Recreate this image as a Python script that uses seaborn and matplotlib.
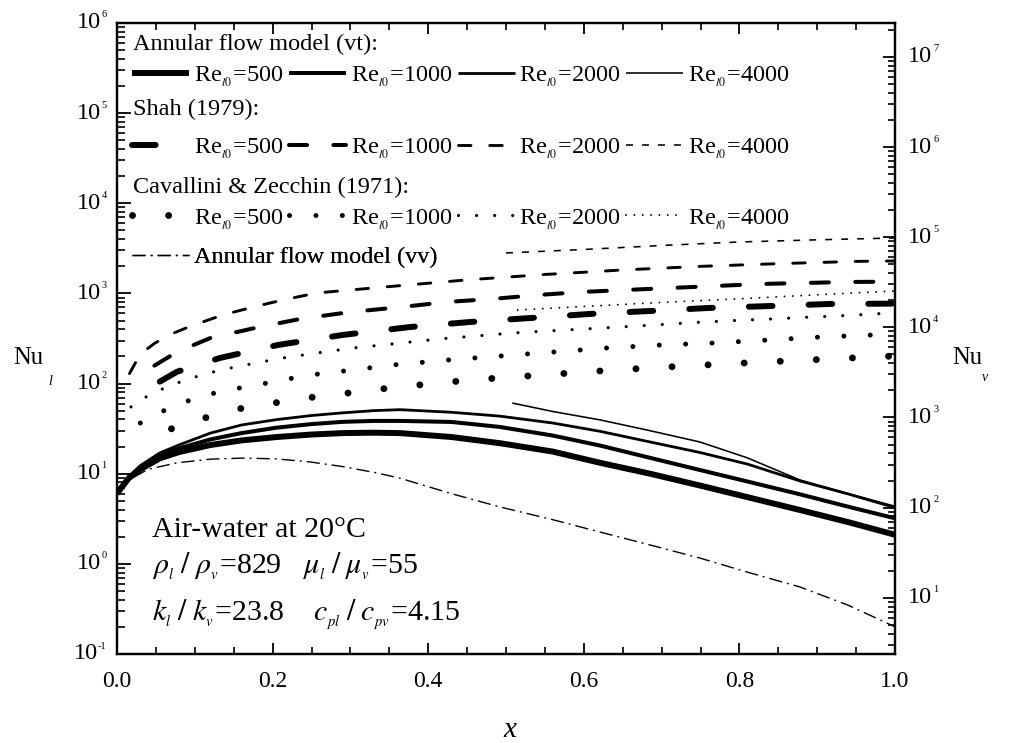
import matplotlib
matplotlib.use("Agg")
import matplotlib.pyplot as plt
import matplotlib.ticker as mticker
import seaborn as sns

# ---------------- data ----------------
re_values = [500, 1000, 2000, 4000]

# Annular flow model (vt)
x_vt = [0, 0.005, 0.015, 0.03, 0.055, 0.08, 0.12, 0.16, 0.205, 0.25, 0.29, 0.33,
        0.364, 0.43, 0.492, 0.56, 0.621, 0.685, 0.749, 0.81, 0.878, 0.94, 1.0]
nu_vt_500 = [6.0, 6.9, 8.9, 11.2, 14.8, 17.4, 20.8, 23.4, 25.5, 27.2, 28.2, 28.5,
             28.2, 25.5, 21.8, 17.6, 13.2, 10.0, 7.4, 5.5, 3.95, 2.9, 2.1]
nu_vt_1000 = [6.0, 7.1, 9.1, 11.7, 15.8, 19.1, 24.0, 28.2, 32.4, 35.5, 37.6, 38.5,
              38.5, 37.5, 33.0, 26.5, 20.5, 15.0, 11.0, 8.2, 5.9, 4.3, 3.2]
nu_vt_2000 = [6.0, 7.2, 9.3, 12.3, 17.0, 20.9, 28.2, 34.7, 39.8, 44.2, 47.3, 50.1,
              51.3, 48.0, 43.5, 36.5, 29.5, 22.5, 17.2, 12.8, 8.3, 5.95, 4.2]
x_vt_4000 = [0.508, 0.56, 0.621, 0.685, 0.749, 0.81, 0.878, 0.94, 1.0]
nu_vt_4000 = [60.8, 49.0, 39.5, 30.0, 22.5, 15.0, 8.5, 6.0, 4.35]

# Shah (1979)
x_shah_500 = [0.055, 0.077, 0.132, 0.207, 0.29, 0.377, 0.454, 0.531, 0.608, 0.685,
              0.76, 0.839, 0.917, 1.0]
nu_shah_500 = [105, 135, 192, 268, 346, 424, 482, 533, 592, 638, 689, 724, 764, 770]
x_shah_1000 = [0.048, 0.077, 0.12, 0.177, 0.235, 0.30, 0.366, 0.424, 0.482, 0.54,
               0.598, 0.653, 0.711, 0.769, 0.826, 0.884, 0.942, 1.0]
nu_shah_1000 = [158, 224, 320, 413, 520, 622, 706, 804, 867, 959, 1038, 1091, 1148,
                1208, 1271, 1306, 1340, 1349]
x_shah_2000 = [0.016, 0.025, 0.035, 0.049, 0.07, 0.094, 0.136, 0.175, 0.213, 0.257,
               0.35, 0.45, 0.55, 0.65, 0.75, 0.85, 0.95, 1.0]
nu_shah_2000 = [129, 178, 229, 282, 355, 431, 577, 706, 845, 1012, 1190, 1413, 1622,
                1820, 1995, 2138, 2265, 2291]
x_shah_4000 = [0.5, 0.6, 0.7, 0.8, 0.9, 1.0]
nu_shah_4000 = [2810, 3070, 3400, 3720, 3930, 4120]

# Cavallini & Zecchin (1971)
x_cz_500 = [0.07, 0.117, 0.162, 0.21, 0.254, 0.308, 0.361, 0.454, 0.546, 0.639,
            0.731, 0.823, 0.916, 1.0]
nu_cz_500 = [31.5, 42.6, 53.6, 62.4, 71.0, 80.5, 91.6, 109.4, 124.5, 141.3, 156.7,
             171.8, 187.1, 202.3]
x_cz_1000 = [0.03, 0.062, 0.094, 0.13, 0.165, 0.2, 0.233, 0.267, 0.303, 0.355, 0.424,
             0.492, 0.562, 0.63, 0.7, 0.769, 0.837, 0.906, 0.974, 1.0]
nu_cz_1000 = [36.5, 50.9, 65.6, 80.5, 91.6, 104, 118, 131, 141, 161, 182, 202, 224,
              248, 268, 282, 304, 329, 346, 355]
x_cz_2000 = [0.018, 0.041, 0.067, 0.09, 0.113, 0.136, 0.162, 0.21, 0.257, 0.303,
             0.366, 0.413, 0.462, 0.509, 0.557, 0.605, 0.652, 0.7, 0.748, 0.796,
             0.843, 0.891, 0.938, 1.0]
nu_cz_2000 = [55.0, 74.6, 94.0, 110.9, 127.6, 142.9, 158.5, 190.5, 218.3, 247.7,
              281.8, 311.9, 337.3, 363.9, 384.6, 404.6, 426.6, 451.9, 478.6, 501.2,
              521.2, 545.8, 568.9, 609.5]
x_cz_4000 = [0.515, 0.6, 0.7, 0.8, 0.9, 1.0]
nu_cz_4000 = [655, 716, 794, 871, 966, 1064]

# Annular flow model (vv)
x_vv = [0, 0.015, 0.04, 0.077, 0.12, 0.162, 0.205, 0.248, 0.29, 0.334, 0.364, 0.43,
        0.492, 0.56, 0.621, 0.685, 0.749, 0.81, 0.878, 0.94, 1.0]
nu_vv = [5.75, 8.5, 11.2, 13.2, 14.5, 14.9, 14.6, 13.5, 12.0, 10.2, 8.9, 6.0, 4.28,
         3.09, 2.25, 1.62, 1.16, 0.81, 0.553, 0.347, 0.2]

conductivity_ratio = 23.8   # k_l / k_v, links the Nu_l and Nu_v scales
nu_l_limits = (1e-1, 1e6)

# ---------------- style ----------------
sns.set_style("ticks")
plt.rcParams.update({
    "font.family": ["Liberation Serif", "DejaVu Serif"],
    "mathtext.fontset": "stix",
    "lines.scale_dashes": False,
    "axes.linewidth": 1.6,
    "xtick.direction": "in",
    "ytick.direction": "in",
    "xtick.color": "black",
    "ytick.color": "black",
    "axes.edgecolor": "black",
    "text.color": "black",
})

fig = plt.figure(figsize=(10.14, 7.43), dpi=100)
ax = fig.add_axes([0.1154, 0.1198, 0.7673, 0.8493])


def draw(x, y, lw, dashes=None, cap="butt"):
    sns.lineplot(x=x, y=y, ax=ax, color="black", linewidth=lw, estimator=None,
                 sort=False, legend=False)
    line = ax.lines[-1]
    if dashes is not None:
        line.set_dashes(dashes)
    line.set_dash_capstyle(cap)
    line.set_solid_capstyle(cap)
    return line


# annular model (vt): solid lines
vt_lines = [
    draw(x_vt, nu_vt_500, 4.3),
    draw(x_vt, nu_vt_1000, 2.9),
    draw(x_vt, nu_vt_2000, 2.0),
    draw(x_vt_4000, nu_vt_4000, 1.15),
]
# Shah: dashed
shah_lines = [
    draw(x_shah_500, nu_shah_500, 4.3, (17.0, 26.0), "round"),
    draw(x_shah_1000, nu_shah_1000, 2.9, (13.0, 19.0), "round"),
    draw(x_shah_2000, nu_shah_2000, 2.1, (9.0, 13.5), "round"),
    draw(x_shah_4000, nu_shah_4000, 1.15, (5.0, 6.5), "butt"),
]
# Cavallini & Zecchin: dotted
cz_lines = [
    draw(x_cz_500, nu_cz_500, 5.0, (0.01, 26.0), "round"),
    draw(x_cz_1000, nu_cz_1000, 3.6, (0.01, 19.0), "round"),
    draw(x_cz_2000, nu_cz_2000, 2.3, (0.01, 13.0), "round"),
    draw(x_cz_4000, nu_cz_4000, 1.4, (0.01, 6.0), "round"),
]
# annular model (vv): dash-dot
vv_line = draw(x_vv, nu_vv, 1.0, (9.5, 3.6, 1.4, 3.6))

# ---------------- axes ----------------
ax.set_yscale("log")
ax.set_xlim(0, 1)
ax.set_ylim(*nu_l_limits)
ax.set_xlabel("")
ax.set_ylabel("")
ax.xaxis.set_major_locator(mticker.MultipleLocator(0.2))
ax.xaxis.set_minor_locator(mticker.MultipleLocator(0.05))
ax.xaxis.set_major_formatter(mticker.FormatStrFormatter("%.1f"))
ax.yaxis.set_major_locator(mticker.LogLocator(base=10, numticks=20))
ax.yaxis.set_minor_locator(mticker.LogLocator(base=10, subs=range(2, 10), numticks=20))
ax.yaxis.set_major_formatter(mticker.NullFormatter())
ax.yaxis.set_minor_formatter(mticker.NullFormatter())
ax.tick_params(axis="x", which="major", length=8, width=1.3, top=True, labelsize=17, pad=12.5)
ax.tick_params(axis="x", which="minor", length=5, width=1.2, top=True)
ax.tick_params(axis="y", which="major", length=10, width=1.3, right=False)
ax.tick_params(axis="y", which="minor", length=5.5, width=1.2, right=False)
for s in ax.spines.values():
    s.set_visible(True)
    s.set_linewidth(1.6)

ax2 = ax.twinx()
ax2.set_yscale("log")
ax2.set_ylim(nu_l_limits[0] * conductivity_ratio, nu_l_limits[1] * conductivity_ratio)
ax2.yaxis.set_major_locator(mticker.LogLocator(base=10, numticks=20))
ax2.yaxis.set_minor_locator(mticker.LogLocator(base=10, subs=range(2, 10), numticks=20))
ax2.yaxis.set_major_formatter(mticker.NullFormatter())
ax2.yaxis.set_minor_formatter(mticker.NullFormatter())
ax2.tick_params(axis="y", which="major", length=9, width=1.3)
ax2.tick_params(axis="y", which="minor", length=5, width=1.2)
for s in ax2.spines.values():
    s.set_linewidth(1.6)

# power-of-ten tick labels with small exponents
for k in range(-1, 7):
    v = 10.0 ** k
    e = ax.annotate(f"{k}", xy=(0, v), xycoords=("axes fraction", "data"),
                    xytext=(-7.5, 2.5), textcoords="offset points", ha="right",
                    va="bottom", fontsize=7.5, annotation_clip=False)
    ax.annotate("10", xy=(0, v), xycoords=(e, "data"), xytext=(-0.3, 0),
                textcoords="offset points", ha="right", va="center", fontsize=17.5,
                annotation_clip=False)
for k in range(1, 8):
    v = 10.0 ** k
    b = ax2.annotate("10", xy=(1, v), xycoords=("axes fraction", "data"),
                     xytext=(9.5, 0), textcoords="offset points", ha="left",
                     va="center", fontsize=17.5, annotation_clip=False)
    ax2.annotate(f"{k}", xy=(1, v), xycoords=(b, "data"), xytext=(0.5, 2.5),
                 textcoords="offset points", ha="left", va="bottom", fontsize=7.5,
                 annotation_clip=False)

# axis titles
ax.text(-0.1337, 0.469, "Nu", transform=ax.transAxes, ha="left", va="center", fontsize=17.7)
ax.text(-0.088, 0.432, "l", transform=ax.transAxes, ha="left", va="center",
        fontsize=10, style="italic")
ax.text(1.0733, 0.469, "Nu", transform=ax.transAxes, ha="left", va="center", fontsize=17.7)
ax.text(1.111, 0.438, "v", transform=ax.transAxes, ha="left", va="center",
        fontsize=10, style="italic")
ax.text(0.505, -0.1204, "x", transform=ax.transAxes, ha="center", va="center",
        fontsize=21, style="italic")

# ---------------- legend blocks ----------------
leg_font = 17.5
leg_kw = dict(loc="center left", frameon=False, fontsize=leg_font, handlelength=2.35,
              handletextpad=0.2, columnspacing=0.2, borderpad=0, borderaxespad=0)
labels = [r"Re$_{_{l0}}$=" + str(r) for r in re_values]

blocks = [
    ("Annular flow model (vt):", 0.957, vt_lines, 0.915),
    ("Shah (1979):", 0.854, shah_lines, 0.8004),
    ("Cavallini & Zecchin (1971):", 0.7306, cz_lines, 0.689),
]
for title, ty, handles, ly in blocks:
    ax.text(0.0206, ty, title, transform=ax.transAxes, ha="left", va="baseline",
            fontsize=leg_font)
    lg = ax.legend(handles=handles, labels=labels, ncol=4,
                   bbox_to_anchor=(0.0195, ly), **leg_kw)
    ax.add_artist(lg)

lg = ax.legend(handles=[vv_line], labels=["Annular flow model (vv)"],
               bbox_to_anchor=(0.0195, 0.629), **leg_kw)
ax.add_artist(lg)

# fluid property note
note_font = 21.5
ax.text(0.045, 0.197, "Air-water at 20°C", transform=ax.transAxes, ha="left",
        va="center", fontsize=note_font)
ax.text(0.045, 0.138, r"$\rho_{_l}\;/\;\rho_{_v}$=829   $\mu_{_l}\;/\;\mu_{_v}$=55",
        transform=ax.transAxes, ha="left", va="center", fontsize=note_font)
ax.text(0.045, 0.062, r"$k_{_l}\;/\;k_{_v}$=23.8    $c_{_{pl}}\;/\;c_{_{pv}}$=4.15",
        transform=ax.transAxes, ha="left", va="center", fontsize=note_font)

fig.savefig("out.png", dpi=100)
